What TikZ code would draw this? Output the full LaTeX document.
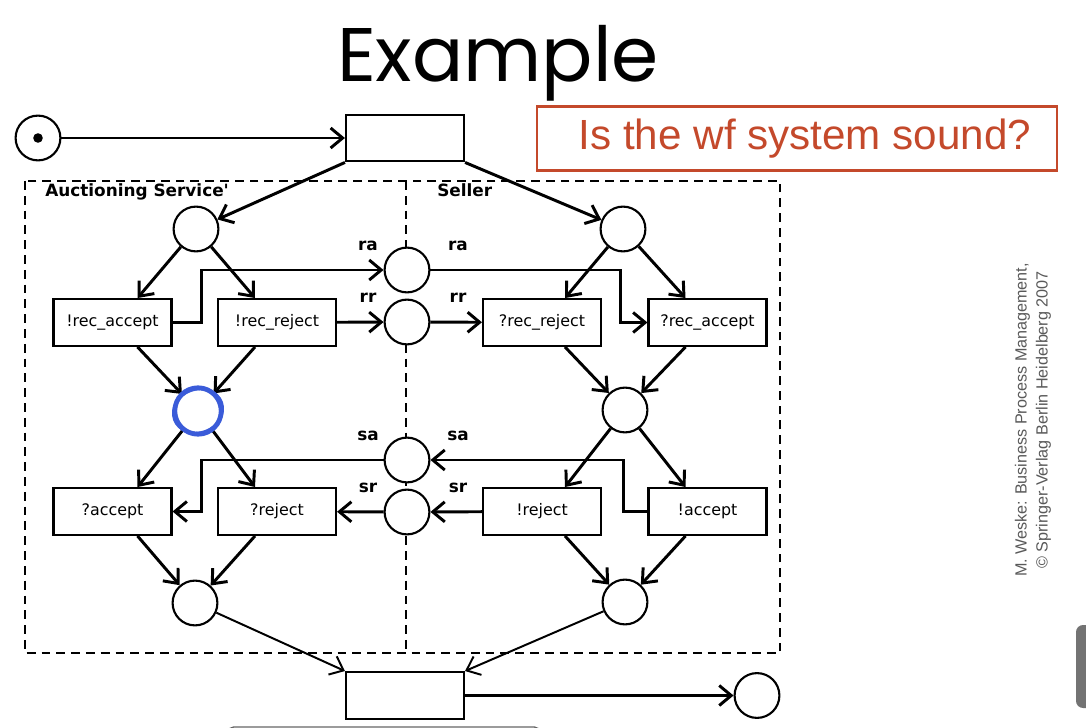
\documentclass[tikz,border=0pt]{standalone}
\usepackage{fontspec}
\setmainfont{DejaVu Sans}
\newfontfamily\titlefont{Poppins}
\newfontfamily\notefont{Liberation Sans}
\usepackage{xcolor}
\usetikzlibrary{arrows.meta,positioning}

\definecolor{askred}{HTML}{C4492B}
\definecolor{penblue}{HTML}{3A5BD9}

\tikzset{
  place/.style={circle,draw,line width=1.5pt,minimum size=1.12cm,inner sep=0pt,fill=white},
  trans/.style={rectangle,draw,line width=1.5pt,minimum width=2.95cm,minimum height=1.17cm,
    inner sep=0pt,fill=white,font=\fontsize{11.3}{13}\selectfont},
  arc/.style={line width=2.1pt,-{Straight Barb[length=0.3cm,width=0.5cm]}},
  thinarc/.style={line width=1.4pt,-{Straight Barb[length=0.3cm,width=0.5cm]}},
  chan/.style={font=\bfseries\fontsize{12}{14}\selectfont,inner sep=0pt},
  lane/.style={dash pattern=on 0.22cm off 0.15cm,line width=1.5pt}
}

\begin{document}
\begin{tikzpicture}[x=0.025cm,y=-0.025cm]
\useasboundingbox (0,0) rectangle (1086,728);

% Title and question
\node[font=\titlefont\fontsize{54}{60}\selectfont] (title) at (498,63) {Example};
\node[draw=askred,line width=2pt,minimum width=13cm,minimum height=1.58cm,
  text=askred,font=\notefont\fontsize{30}{34}\selectfont] (ask) at (797,138.5) {\hspace*{0.4cm}Is the wf system sound?};

% Lanes
\draw[lane] (25,181) rectangle (780,653);
\draw[lane] (406,181) -- (406,653);
\node[chan,anchor=north west] (lblA) at (45,183) {Auctioning Service\textquotesingle};
\node[chan,anchor=north west] (lblS) at (437,183) {Seller};

% Start and end
\node[place] (ia) at (38,138) {};
\fill (ia) circle[radius=0.12cm];
\node[trans] (tStart) at (405,138) {};
\node[trans] (tEnd) at (405,695.5) {};
\node[place] (oa) at (757,695.5) {};

% Auctioning service
\node[place] (aIn) at (196,229) {};
\node[trans] (recAcc) at (112.5,322.5) {!rec\_accept};
\node[trans] (recRej) at (277,322.5) {!rec\_reject};
\node[place] (aMid) at (198,411) {};
\node[trans] (qAcc) at (112.5,511.5) {?accept};
\node[trans] (qRej) at (277,511.5) {?reject};
\node[place] (aOut) at (195,603) {};

% Seller
\node[place] (sIn) at (623,229) {};
\node[trans] (qRecRej) at (542,322.5) {?rec\_reject};
\node[trans] (qRecAcc) at (707.5,322.5) {?rec\_accept};
\node[place] (sMid) at (625,410) {};
\node[trans] (eRej) at (542,511.5) {!reject};
\node[trans] (eAcc) at (707.5,511.5) {!accept};
\node[place] (sOut) at (625,602) {};

% Channels
\node[place] (ra) at (407,270) {};
\node[place] (rr) at (407,322) {};
\node[place] (sa) at (407,460) {};
\node[place] (sr) at (407,512) {};
\foreach \c in {ra,rr,sa,sr} {
  \node[chan] (\c L) at ([shift={(-39,-24)}]\c) {\c};
  \node[chan] (\c R) at ([shift={(51,-24)}]\c) {\c};
}

% Arcs
\draw[arc] (ia) -- (tStart);
\draw[arc] (tStart.south west) -- (aIn);
\draw[arc] (tStart.south east) -- (sIn);
\draw[arc] (aIn) -- ([shift={(25,0)}]recAcc.north);
\draw[arc] (aIn) -- ([shift={(-22,0)}]recRej.north);
\draw[arc] (sIn) -- ([shift={(23,0)}]qRecRej.north);
\draw[arc] (sIn) -- ([shift={(-22,0)}]qRecAcc.north);
\draw[arc] ([shift={(25,0)}]recAcc.south) -- (aMid);
\draw[arc] ([shift={(-22,0)}]recRej.south) -- (aMid);
\draw[arc] ([shift={(23,0)}]qRecRej.south) -- (sMid);
\draw[arc] ([shift={(-22,0)}]qRecAcc.south) -- (sMid);
\draw[arc] (aMid) -- ([shift={(25,0)}]qAcc.north);
\draw[arc] (aMid) -- ([shift={(-22,0)}]qRej.north);
\draw[arc] (sMid) -- ([shift={(23,0)}]eRej.north);
\draw[arc] (sMid) -- ([shift={(-22,0)}]eAcc.north);
\draw[arc] ([shift={(25,0)}]qAcc.south) -- (aOut);
\draw[arc] ([shift={(-22,0)}]qRej.south) -- (aOut);
\draw[arc] ([shift={(23,0)}]eRej.south) -- (sOut);
\draw[arc] ([shift={(-22,0)}]eAcc.south) -- (sOut);
\draw[thinarc] (aOut) -- (tEnd.north west);
\draw[thinarc] (sOut) -- (tEnd.north east);
\draw[arc] (tEnd) -- (oa);

% Messages
\draw[arc] (recAcc.east) -- ++(29,0) |- (ra);
\draw[arc] (recRej) -- (rr);
\draw[arc] (ra) -| ([shift={(-27,0)}]qRecAcc.west) -- (qRecAcc.west);
\draw[arc] (rr) -- (qRecRej);
\draw[arc] (eAcc.west) -- ++(-24,0) |- (sa);
\draw[arc] (eRej) -- (sr);
\draw[arc] (sa) -| ([shift={(29,0)}]qAcc.east) -- (qAcc.east);
\draw[arc] (sr) -- (qRej);

% Pen mark
\draw[penblue,line width=3.4pt] (aMid) circle[radius=0.58cm];
\draw[penblue,line width=1.8pt,rotate around={20:(aMid)}] (aMid) ellipse[x radius=0.63cm,y radius=0.54cm];

% Source note
\node[rotate=90,align=center,text=black!65,font=\notefont\fontsize{11.5}{15}\selectfont] (src) at (1033,420)
  {M. Weske: Business Process Management,\\\textcopyright{} Springer-Verlag Berlin Heidelberg 2007};

% Screen edges
\fill[black!55,rounded corners=5pt] (1076,625) rectangle (1100,708);
\draw[black!60,line width=1pt,rounded corners=4pt] (228,735) -- (228,727) -- (540,727) -- (540,735);
\end{tikzpicture}
\end{document}
